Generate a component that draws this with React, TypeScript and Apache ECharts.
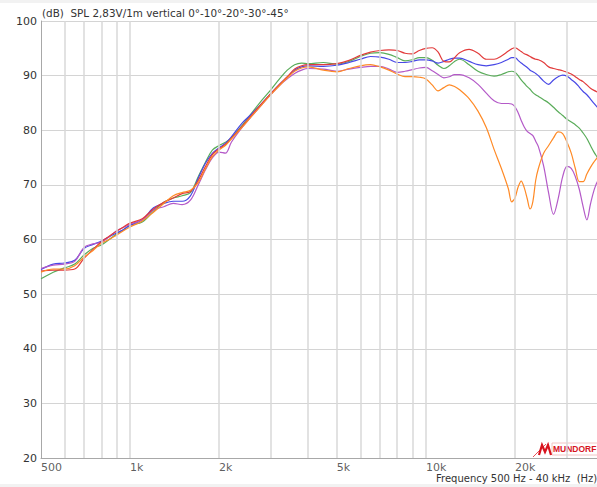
import React, { useEffect, useRef } from "react";
import * as echarts from "echarts";

const FONT = "'DejaVu Sans', Verdana, sans-serif";

const FREQS = [
  500, 550, 600, 650, 700, 750, 800, 850, 900, 950,
  1000, 1100, 1200, 1300, 1400, 1500, 1600, 1700, 1800, 1900,
  2000, 2100, 2200, 2400, 2600, 2800,
  3000, 3200, 3400, 3600, 3800,
  4000, 4500, 5000, 5500, 6000, 6500, 7000, 7500, 8000, 8500, 9000, 9500,
  10000, 10500, 11000, 11500, 12000, 12500, 13000,
  14000, 15000, 16000, 17000, 18000,
  19000, 19500, 20000, 20500, 21000, 21500, 22000, 22500, 23000, 23500, 24000,
  25000, 26000, 27000, 28000, 29000, 30000, 31000, 32000, 33000, 34000, 35000, 36000, 37000, 38000,
  40000,
];

const SPL_0 = [
  54.2, 54.4, 54.4, 54.6, 56.6, 58.2, 59.6, 60.6, 61.5, 62.3,
  63.0, 63.8, 65.6, 66.8, 67.6, 68.4, 68.8, 70.8, 73.4, 75.6,
  76.6, 77.4, 78.5, 80.8, 83.0, 85.0,
  86.8, 88.4, 89.8, 91.2, 91.8,
  92.0, 92.0, 92.2, 92.8, 93.7, 94.3, 94.6, 94.7, 94.6, 94.1, 94.0, 94.6,
  95.0, 95.1, 94.3, 92.6, 92.5, 93.3, 94.2,
  94.8, 94.1, 93.0, 93.0, 93.6,
  94.5, 94.9, 95.1, 94.8, 94.4, 94.0, 93.8, 93.5, 93.2, 93.0, 92.9,
  92.4, 91.6, 91.3, 91.1, 90.9, 90.6, 90.3, 89.8, 89.3, 88.9, 88.3, 87.7, 87.3, 87.0,
  86.5,
];

const SPL_10 = [
  54.5, 55.5, 55.7, 56.2, 58.4, 59.1, 59.7, 60.5, 61.2, 61.8,
  62.6, 63.6, 65.8, 66.6, 67.0, 67.0, 68.0, 71.2, 74.0, 75.8,
  76.8, 77.6, 78.8, 81.4, 83.2, 85.0,
  86.8, 88.4, 89.7, 91.0, 91.6,
  91.8, 91.7, 91.9, 92.4, 93.0, 93.5, 93.4, 93.0, 92.4, 92.4, 92.6, 92.9,
  92.9, 92.7, 92.3, 92.6, 93.0, 93.2, 93.2,
  92.6, 92.0, 91.8, 92.0, 92.4,
  93.0, 93.3, 93.3, 92.8, 92.3, 91.9, 91.5, 91.0, 90.7, 90.4, 90.0,
  89.0, 88.4, 89.2, 89.8, 90.1, 89.9, 89.3, 88.7, 87.9, 87.1, 86.5, 85.7, 84.9, 84.2,
  83.0,
];

const SPL_20 = [
  52.8, 54.0, 54.8, 55.5, 57.2, 58.4, 59.0, 60.0, 61.0, 61.8,
  62.6, 63.2, 65.2, 66.8, 67.6, 68.0, 68.6, 71.5, 74.2, 76.4,
  77.2, 77.8, 78.6, 81.0, 83.4, 85.6,
  87.5, 89.4, 91.0, 92.0, 92.3,
  92.2, 92.4, 92.1, 92.6, 93.5, 94.1, 94.2, 93.9, 93.3, 92.7, 92.9, 93.3,
  93.3, 92.8, 91.9, 91.3, 91.8, 92.6, 93.0,
  92.0, 90.8, 90.2, 89.9, 90.2,
  90.7, 90.8, 90.6, 90.0, 89.2, 88.6, 88.0, 87.5, 86.9, 86.5, 86.2,
  85.6, 85.0, 84.2, 83.4, 82.7, 82.0, 81.5, 81.0, 80.4, 79.5, 78.5, 77.2, 76.0, 75.0,
  73.0,
];

const SPL_30 = [
  54.7, 55.3, 55.5, 56.0, 58.6, 59.2, 59.5, 60.5, 61.6, 62.2,
  62.8, 63.6, 65.4, 66.0, 66.6, 66.4, 67.2, 70.0, 72.8, 75.0,
  76.0, 75.8, 77.8, 80.6, 82.8, 84.8,
  86.6, 88.2, 89.4, 90.4, 91.0,
  91.3, 91.2, 90.8, 91.2, 91.5, 91.7, 91.7, 91.2, 90.6, 90.8, 91.1, 91.4,
  91.5, 90.9, 90.2, 89.6, 89.8, 90.2, 90.2,
  89.6, 88.4, 86.8, 85.4, 84.9,
  84.9, 84.8, 84.3, 83.2, 81.8, 80.6, 79.8, 79.4, 79.0, 78.0, 77.0,
  73.5, 68.5, 64.6, 67.5, 71.5, 73.4, 73.0, 71.5, 69.2, 66.0, 63.6, 66.5, 69.0, 70.6,
  72.0,
];

const SPL_45 = [
  54.0, 54.6, 54.6, 55.2, 56.8, 58.0, 59.3, 60.0, 60.8, 61.6,
  62.3, 63.4, 65.0, 66.6, 68.0, 68.6, 69.0, 70.4, 73.0, 75.2,
  76.4, 77.2, 78.4, 80.6, 82.8, 84.8,
  86.6, 88.2, 89.6, 90.8, 91.4,
  91.6, 91.0, 90.7, 91.3, 91.8, 92.0, 91.6, 91.0, 90.3, 89.8, 89.8, 89.7,
  89.4, 88.3, 87.2, 87.8, 88.3, 88.0, 87.4,
  85.8, 83.5, 80.5, 76.5, 73.0,
  69.3, 66.9, 67.6, 69.6, 70.7, 69.5, 67.5, 65.6, 67.0, 70.8, 73.0,
  75.8, 77.2, 78.6, 79.7, 79.4, 77.8, 75.8, 73.0, 70.6, 70.6, 72.0, 73.2, 74.2, 75.0,
  76.0,
];

const SERIES_NAMES = ["0°", "10°", "20°", "30°", "45°"];
const SERIES_VALUES = [SPL_0, SPL_10, SPL_20, SPL_30, SPL_45];
const SERIES_COLORS = ["#e23b3b", "#4848e6", "#5aac5a", "#b45ac8", "#ff8a26"];
const DRAW_ORDER = [2, 1, 3, 0, 4];

const X_LABEL_FREQS = [500, 1000, 2000, 5000, 10000, 20000];
const X_GRID_FREQS = [600, 700, 800, 900, 1000, 2000, 3000, 4000, 5000, 6000, 7000, 8000, 9000, 10000, 20000, 30000];
const Y_MIN = 20;
const Y_MAX = 100;
const Y_STEP = 10;

const TITLE = "(dB)  SPL 2,83V/1m vertical 0°-10°-20°-30°-45°";
const X_NAME = "Frequency 500 Hz - 40 kHz  (Hz)";

function fmtFreq(v: number): string {
  return v >= 1000 ? v / 1000 + "k" : String(v);
}

export default function App() {
  const ref = useRef<HTMLDivElement>(null);

  useEffect(() => {
    if (!ref.current) return;
    const chart = echarts.init(ref.current, null, { renderer: "svg" });

    const curveSeries = DRAW_ORDER.map((i) => ({
      type: "line",
      name: SERIES_NAMES[i],
      data: FREQS.map((f, k) => [f, SERIES_VALUES[i][k]]),
      smooth: 0.35,
      symbol: "none",
      z: 3,
      lineStyle: { color: SERIES_COLORS[i], width: 1.2 },
      itemStyle: { color: SERIES_COLORS[i] },
      silent: true,
    }));

    const option: any = {
      animation: false,
      backgroundColor: "#ffffff",
      textStyle: { fontFamily: FONT },
      grid: {
        left: 41,
        top: 21,
        width: 563,
        height: 437,
        containLabel: false,
        outerBoundsMode: "none",
      },
      xAxis: {
        type: "log",
        logBase: 10,
        min: 500,
        max: 40000,
        axisLine: { show: true, onZero: false, lineStyle: { color: "#a8a8a8", width: 1 } },
        axisTick: { show: false },
        axisLabel: { show: false },
        splitLine: { show: false },
        minorTick: { show: false },
        minorSplitLine: { show: false },
      },
      yAxis: {
        type: "value",
        min: Y_MIN,
        max: Y_MAX,
        interval: Y_STEP,
        axisLine: { show: true, lineStyle: { color: "#a8a8a8", width: 1 } },
        axisTick: { show: false },
        axisLabel: { color: "#333", fontSize: 11, margin: 4, fontFamily: FONT },
        splitLine: { show: true, lineStyle: { color: "#d4d4d4", width: 1.2 } },
      },
      series: [
        {
          type: "line",
          name: "grid",
          data: [],
          silent: true,
          z: 1,
          markLine: {
            silent: true,
            symbol: ["none", "none"],
            label: { show: false },
            lineStyle: { color: "#d8d8d8", width: 1.5, type: "solid" },
            data: X_GRID_FREQS.map((f) => ({ xAxis: f })),
          },
        },
        {
          type: "scatter",
          name: "xlabels",
          data: X_LABEL_FREQS.map((f) => [f, Y_MIN]),
          symbol: "circle",
          symbolSize: 1,
          itemStyle: { color: "rgba(0,0,0,0)" },
          clip: false,
          silent: true,
          z: 2,
          label: {
            show: true,
            position: "bottom",
            distance: 3,
            align: "left",
            color: "#333",
            fontSize: 11,
            fontFamily: FONT,
            formatter: (p: any) => fmtFreq(p.value[0]),
          },
        },
        ...curveSeries,
      ],
      graphic: [
        { type: "rect", shape: { x: 0, y: 0, width: 597, height: 3 }, style: { fill: "#f2f2f2" }, silent: true },
        { type: "rect", shape: { x: 0, y: 484, width: 597, height: 3 }, style: { fill: "#f2f2f2" }, silent: true },
        {
          type: "text",
          x: 42,
          y: 8,
          style: { text: TITLE, font: `10.4px ${FONT}`, fill: "#333" },
          silent: true,
        },
        {
          type: "text",
          x: 436,
          y: 473,
          style: { text: X_NAME, font: `10px ${FONT}`, fill: "#333" },
          silent: true,
        },
        {
          type: "group",
          silent: true,
          children: [
            { type: "rect", shape: { x: 552, y: 443, width: 50, height: 12 }, style: { fill: "#ffffff", stroke: "#f3c4c4", lineWidth: 1 } },
            { type: "line", shape: { x1: 533, y1: 457, x2: 546, y2: 444 }, style: { stroke: "#e8505a", lineWidth: 1 } },
            {
              type: "polyline",
              shape: { points: [[539, 455], [542, 445], [545, 452], [548, 445], [551, 455]] },
              style: { stroke: "#d8141e", lineWidth: 2.2, fill: null },
            },
            {
              type: "text",
              x: 553,
              y: 444.5,
              style: { text: "MUNDORF", font: `bold 8.5px 'Liberation Sans', Arial, sans-serif`, fill: "#d8141e" },
            },
          ],
        },
      ],
    };

    chart.setOption(option);
    return () => chart.dispose();
  }, []);

  return (
    <div
      ref={ref}
      style={{ position: "fixed", left: 0, top: 0, width: 597, height: 487, background: "#fff" }}
    />
  );
}
